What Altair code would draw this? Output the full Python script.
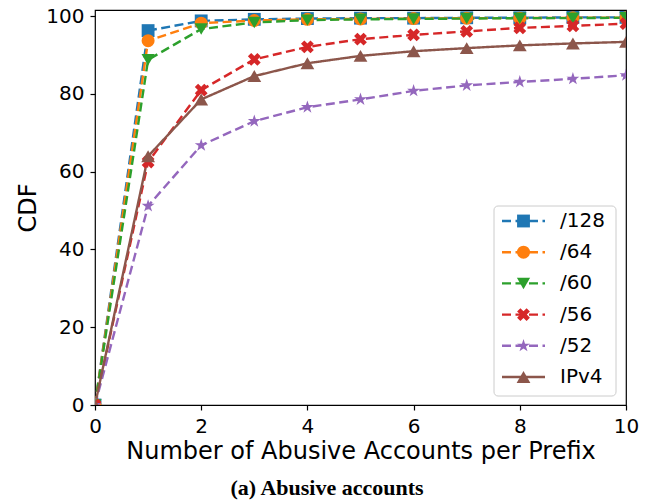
import altair as alt
import pandas as pd

# ---- data ----
x_vals = [0, 1, 2, 3, 4, 5, 6, 7, 8, 9, 10]
series_names = ["/128", "/64", "/60", "/56", "/52", "IPv4"]
p128 = [0, 96.3, 98.8, 99.2, 99.4, 99.5, 99.5, 99.6, 99.6, 99.7, 99.7]
p64 = [0, 93.7, 98.2, 98.9, 99.2, 99.3, 99.4, 99.5, 99.5, 99.6, 99.6]
p60 = [0, 88.8, 96.7, 98.4, 99.0, 99.2, 99.3, 99.4, 99.5, 99.5, 99.6]
p56 = [0, 62.5, 81.0, 88.9, 92.1, 94.1, 95.2, 96.1, 97.0, 97.5, 98.1]
p52 = [0, 51.2, 66.8, 73.0, 76.6, 78.6, 80.8, 82.2, 83.1, 83.9, 84.8]
ipv4 = [0, 64.0, 78.6, 84.6, 87.9, 89.8, 91.0, 91.8, 92.5, 93.0, 93.4]
y_ticks = [0, 20, 40, 60, 80, 100]
x_ticks = [0, 2, 4, 6, 8, 10]

series_values = [p128, p64, p60, p56, p52, ipv4]

# ---- styles ----
colors = ["#1f77b4", "#ff7f0e", "#2ca02c", "#d62728", "#9467bd", "#8c564b"]
dashes = [[9, 4.5], [9, 4.5], [9, 4.5], [9, 4.5], [9, 4.5], [1, 0]]
STAR = ("M0,-1L0.225,-0.309L0.951,-0.309L0.363,0.118L0.588,0.809L0,0.382"
        "L-0.588,0.809L-0.363,0.118L-0.951,-0.309L-0.225,-0.309Z")
XSHAPE = ("M0.955,-0.460L0.495,0L0.955,0.460L0.460,0.955L0,0.495L-0.460,0.955"
          "L-0.955,0.460L-0.495,0L-0.955,-0.460L-0.460,-0.955L0,-0.495L0.460,-0.955Z")
shapes = ["square", "circle", "triangle-down", XSHAPE, STAR, "triangle-up"]
sizes = [165, 190, 190, 250, 330, 190]

rows = []
for order, (name, vals) in enumerate(zip(series_names, series_values)):
    for xv, yv in zip(x_vals, vals):
        rows.append({"x": xv, "y": yv, "series": name, "order": order})
df = pd.DataFrame(rows)

W, H = 531, 395
FONT = "DejaVu Sans"

color_scale = alt.Scale(domain=series_names, range=colors)
dash_scale = alt.Scale(domain=series_names, range=dashes)
shape_scale = alt.Scale(domain=series_names, range=shapes)
size_scale = alt.Scale(domain=series_names, range=sizes)
x_scale = alt.Scale(domain=[0, 10], nice=False)
y_scale = alt.Scale(domain=[0, 101.6], nice=False)

x_enc = alt.X("x:Q", scale=x_scale,
              axis=alt.Axis(values=x_ticks, title="Number of Abusive Accounts per Prefix",
                            grid=False, domain=False, tickSize=5, tickColor="black",
                            tickWidth=1.2, labelPadding=6, labelFontSize=20,
                            labelFlush=False, labelFont=FONT, labelColor="black",
                            titleFont=FONT, titleFontSize=24, titleFontWeight="normal",
                            titleColor="black", titleX=W / 2, titleY=53,
                            titleBaseline="alphabetic", titleAnchor="middle"))
y_enc = alt.Y("y:Q", scale=y_scale,
              axis=alt.Axis(values=y_ticks, title="CDF", grid=False, domain=False,
                            tickSize=5, tickColor="black", tickWidth=1.2, labelPadding=6,
                            labelFlush=False, labelFontSize=20, labelFont=FONT,
                            labelColor="black", titleFont=FONT, titleFontSize=24,
                            titleFontWeight="normal", titleColor="black", titleX=-60,
                            titleY=H / 2, titleAngle=-90, titleBaseline="alphabetic",
                            titleAlign="center"))

base = alt.Chart(df)

lines = base.mark_line(strokeWidth=2.4, clip=True).encode(
    x=x_enc, y=y_enc,
    color=alt.Color("series:N", scale=color_scale, legend=None),
    strokeDash=alt.StrokeDash("series:N", scale=dash_scale, legend=None),
    detail="series:N",
)

points = base.mark_point(filled=True, opacity=1, clip=True).encode(
    x=alt.X("x:Q", scale=x_scale),
    y=alt.Y("y:Q", scale=y_scale, axis=None),
    color=alt.Color("series:N", scale=color_scale, legend=None),
    shape=alt.Shape("series:N", scale=shape_scale, legend=None),
    size=alt.Size("series:N", scale=size_scale, legend=None),
    order="order:Q",
)

# ---- manual matplotlib-style legend ----
leg_df = pd.DataFrame({"series": series_names, "row": list(range(len(series_names)))})
leg_y = alt.Y("row:Q", scale=alt.Scale(domain=[0, 5], range=[211, 367], nice=False,
                                       zero=False), axis=None)

leg_box = alt.Chart(alt.Data(values=[{"a": 1}])).mark_rect(
    fill="white", fillOpacity=0.8, stroke="#cccccc", strokeWidth=1, cornerRadius=4
).encode(x=alt.value(399), x2=alt.value(521), y=alt.value(196), y2=alt.value(386))

leg_lines = alt.Chart(leg_df).mark_rule(strokeWidth=2.4).encode(
    x=alt.value(407), x2=alt.value(450), y=leg_y,
    color=alt.Color("series:N", scale=color_scale, legend=None),
    strokeDash=alt.StrokeDash("series:N", scale=dash_scale, legend=None),
)
leg_pts = alt.Chart(leg_df).mark_point(filled=True, opacity=1).encode(
    x=alt.value(428.5), y=leg_y,
    color=alt.Color("series:N", scale=color_scale, legend=None),
    shape=alt.Shape("series:N", scale=shape_scale, legend=None),
    size=alt.Size("series:N", scale=size_scale, legend=None),
)
leg_text = alt.Chart(leg_df).mark_text(
    align="left", baseline="middle", font=FONT, fontSize=20, color="black"
).encode(x=alt.value(465), y=leg_y, text="series:N")

legend_layer = alt.layer(leg_box, leg_lines, leg_pts, leg_text)

caption = alt.Chart(alt.Data(values=[{"t": "(a) Abusive accounts"}])).mark_text(
    font="Liberation Serif", fontSize=22, fontWeight="bold", color="black",
    align="center", baseline="alphabetic"
).encode(x=alt.value(232), y=alt.value(485), text="t:N")

chart = alt.layer(lines, points, legend_layer, caption).resolve_scale(
    y="independent"
).properties(
    width=W, height=H,
    autosize=alt.AutoSizeParams(type="none"),
    padding={"left": 95, "top": 10, "right": 26, "bottom": 99},
    background="white",
).configure_view(stroke="black", strokeWidth=1.2)

chart.save("out.html", embed_options={"renderer": "svg", "actions": False})
